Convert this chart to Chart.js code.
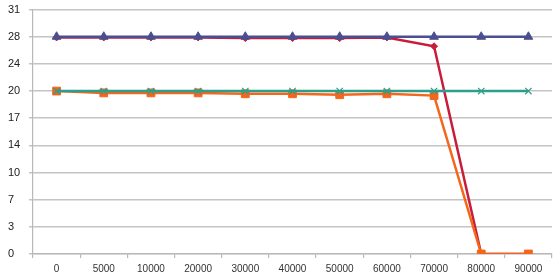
<!DOCTYPE html>
<html>
<head>
<meta charset="utf-8">
<script src="https://cdn.jsdelivr.net/npm/chart.js@4/dist/chart.umd.min.js"></script>
<style>
  html, body { margin: 0; padding: 0; background: #fff; }
  #wrap { width: 560px; height: 280px; position: relative; }
</style>
</head>
<body>
<div id="wrap"><canvas id="c" width="560" height="280"></canvas></div>
<script>
const categories = ['0', '5000', '10000', '20000', '30000', '40000', '50000', '60000', '70000', '80000', '90000'];
const yTickValues = [0, 3, 7, 10, 14, 17, 20, 24, 28, 31];
const seriesBlue = [28, 28, 28, 28, 28, 28, 28, 28, 28, 28, 28];
const seriesTeal = [20, 20, 20, 20, 20, 20, 20, 20, 20, 20, 20];
const seriesOrange = [20, 19.8, 19.8, 19.8, 19.7, 19.7, 19.6, 19.7, 19.5, 0, 0];
const seriesRed = [27.9, 27.9, 27.9, 27.9, 27.8, 27.8, 27.8, 27.9, 26.6, 0, 0];

// Linear scale whose labelled ticks are equally spaced (piecewise linear between them)
class PiecewiseScale extends Chart.LinearScale {
  buildTicks() {
    return yTickValues.map(v => ({ value: v }));
  }
  getPixelForValue(value) {
    const t = yTickValues;
    let i = 0;
    while (i < t.length - 2 && value > t[i + 1]) i++;
    const frac = (i + (value - t[i]) / (t[i + 1] - t[i])) / (t.length - 1);
    return this.getPixelForDecimal(frac);
  }
}
PiecewiseScale.id = 'piecewise';
PiecewiseScale.defaults = Chart.LinearScale.defaults;
Chart.register(PiecewiseScale);

new Chart(document.getElementById('c'), {
  type: 'line',
  data: {
    labels: categories,
    datasets: [
      { label: 'A', data: seriesBlue, borderColor: '#4b4f8f', backgroundColor: '#4b4f8f',
        pointStyle: 'triangle', pointRadius: 5, borderWidth: 2.5, pointBorderWidth: 1 },
      { label: 'C', data: seriesTeal, borderColor: '#2d9e8c', backgroundColor: '#2d9e8c',
        pointStyle: 'crossRot', pointRadius: 4.5, borderWidth: 2.5, pointBorderWidth: 1.2 },
      { label: 'D', data: seriesOrange, borderColor: '#f4661c', backgroundColor: '#f4661c',
        pointStyle: 'rect', pointRadius: 5.5, borderWidth: 2.5, pointBorderWidth: 1 },
      { label: 'B', data: seriesRed, borderColor: '#c81d3a', backgroundColor: '#c81d3a',
        pointStyle: 'rectRot', pointRadius: 3.5, borderWidth: 2.5, pointBorderWidth: 1 }
    ]
  },
  options: {
    responsive: false,
    animation: false,
    tension: 0,
    layout: { padding: { left: 8, right: 8, top: 7, bottom: 0 } },
    plugins: { legend: { display: false }, tooltip: { enabled: false } },
    scales: {
      x: {
        type: 'category',
        offset: true,
        grid: { offset: true, drawOnChartArea: false, drawTicks: true, tickLength: 4, color: '#b8b8b8', lineWidth: 1.2 },
        border: { color: '#b8b8b8', width: 1.2 },
        ticks: { color: '#333', font: { family: 'Liberation Sans', size: 10 }, padding: 5, maxRotation: 0, autoSkip: false },
        afterFit: s => { s.height = 26; }
      },
      y: {
        type: 'piecewise',
        min: 0,
        max: 31,
        grid: { color: '#c4c4c4', lineWidth: 1.5, drawTicks: true, tickLength: 4 },
        border: { color: '#b8b8b8', width: 1.2 },
        ticks: { color: '#222', font: { family: 'Liberation Sans', size: 11 }, crossAlign: 'far',
                 callback: v => String(v), autoSkip: false },
        afterFit: s => { s.width = 25; }
      }
    }
  }
});
</script>
</body>
</html>
